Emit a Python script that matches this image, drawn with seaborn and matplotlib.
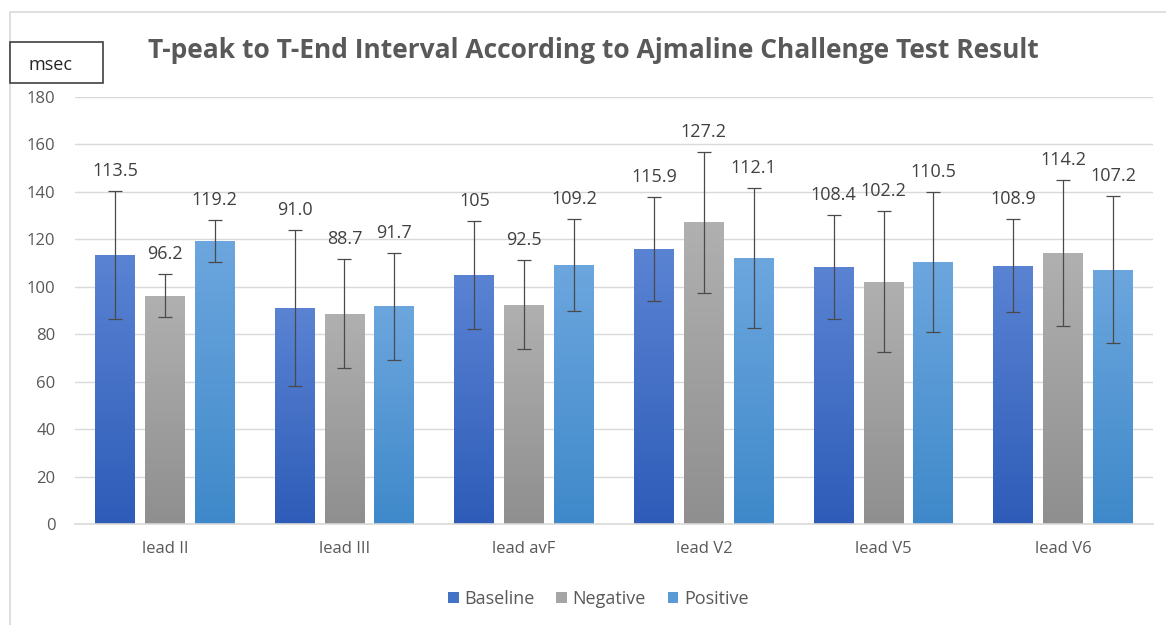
import numpy as np
import pandas as pd
import matplotlib
matplotlib.use('Agg')
import matplotlib.pyplot as plt
import seaborn as sns
from matplotlib.colors import LinearSegmentedColormap
from matplotlib.patches import Rectangle, Patch

leads = ['lead II', 'lead III', 'lead avF', 'lead V2', 'lead V5', 'lead V6']
groups = ['Baseline', 'Negative', 'Positive']

baseline = [113.5, 91.0, 105.0, 115.9, 108.4, 108.9]
negative = [96.2, 88.7, 92.5, 127.2, 102.2, 114.2]
positive = [119.2, 91.7, 109.2, 112.1, 110.5, 107.2]

baseline_sd = [27.0, 33.0, 22.7, 22.0, 22.0, 19.7]
negative_sd = [9.0, 22.8, 18.7, 29.7, 29.7, 30.9]
positive_sd = [8.8, 22.6, 19.2, 29.5, 29.6, 30.9]

baseline_lbl = ['113.5', '91.0', '105', '115.9', '108.4', '108.9']
negative_lbl = ['96.2', '88.7', '92.5', '127.2', '102.2', '114.2']
positive_lbl = ['119.2', '91.7', '109.2', '112.1', '110.5', '107.2']

rows = []
for g, vals, sds, lbls in [('Baseline', baseline, baseline_sd, baseline_lbl),
                           ('Negative', negative, negative_sd, negative_lbl),
                           ('Positive', positive, positive_sd, positive_lbl)]:
    for lead, v, s, l in zip(leads, vals, sds, lbls):
        rows.append({'lead': lead, 'group': g, 'value': v, 'sd': s, 'label': l})
df = pd.DataFrame(rows)

solid = {'Baseline': '#4472C4', 'Negative': '#A5A5A5', 'Positive': '#5B9BD5'}
grad = {'Baseline': ('#5A83D3', '#2E5CB8'),
        'Negative': ('#B0B0B0', '#8F8F8F'),
        'Positive': ('#6CA6DE', '#3F89CA')}

sns.set_theme(style='white')
plt.rcParams['font.family'] = ['Open Sans', 'DejaVu Sans']
txt = '#595959'

fig = plt.figure(figsize=(11.66, 6.25), dpi=100)
ax = fig.add_axes([0.0643, 0.1616, 0.9246, 0.6832])

sns.barplot(data=df, x='lead', y='value', hue='group', order=leads, hue_order=groups,
            palette=solid, width=0.833, gap=0.2, errorbar=None, legend=False, ax=ax)

# gradients, error bars and labels
for container, g in zip(ax.containers, groups):
    sub = df[df['group'] == g].set_index('lead').loc[leads]
    cmap = LinearSegmentedColormap.from_list(g, [grad[g][1], grad[g][0]])
    for patch, (_, r) in zip(container.patches, sub.iterrows()):
        x0, w, h = patch.get_x(), patch.get_width(), patch.get_height()
        patch.set_facecolor('none')
        patch.set_edgecolor('none')
        im = ax.imshow(np.linspace(0, 1, 100).reshape(-1, 1), cmap=cmap, origin='lower',
                       extent=[x0, x0 + w, 0, h], aspect='auto', zorder=2)
        im.set_clip_path(patch)
        xc = x0 + w / 2
        ax.errorbar(xc, r['value'], yerr=r['sd'], fmt='none', ecolor='#4a4a4a',
                    elinewidth=0.9, capsize=5, capthick=0.9, zorder=3)
        ax.annotate(r['label'], (xc, r['value'] + r['sd']), xytext=(0, 8),
                    textcoords='offset points', ha='center', va='bottom',
                    fontsize=13, color='#404040')
ax.set_xlim(-0.5, 5.5)
ax.set_ylim(0, 180)
ax.set_yticks(range(0, 181, 20))

ax.grid(axis='y', color='#D9D9D9', linewidth=1)
ax.set_axisbelow(True)
for s in ['top', 'right', 'left']:
    ax.spines[s].set_visible(False)
ax.spines['bottom'].set_color('#D9D9D9')
ax.spines['bottom'].set_linewidth(1.2)
ax.tick_params(axis='both', length=0, labelsize=12, labelcolor=txt)
ax.tick_params(axis='x', pad=12)
ax.tick_params(axis='y', pad=14)
ax.set_xlabel('')
ax.set_ylabel('')

handles = [Patch(facecolor=solid[g], edgecolor='none', label=g) for g in groups]
fig.legend(handles=handles, loc='center', bbox_to_anchor=(0.513, 0.042), ncol=3, frameon=False,
           fontsize=13, handlelength=0.6, handleheight=0.6, handletextpad=0.3, columnspacing=1.2,
           labelcolor=txt)

fig.text(0.509, 0.92, 'T-peak to T-End Interval According to Ajmaline Challenge Test Result',
         ha='center', va='center', fontsize=19, fontweight='bold', color=txt)

# outer chart frame
fig.add_artist(Rectangle((10 / 1166, -0.01), 1.2, 1 - 12 / 625 + 0.01, transform=fig.transFigure,
                         fill=False, edgecolor='#D9D9D9', linewidth=1.2))
# msec box
fig.add_artist(Rectangle((10 / 1166, 1 - 83 / 625), 93 / 1166, 41 / 625, transform=fig.transFigure,
                         facecolor='white', edgecolor='#404040', linewidth=1.2))
fig.text(50 / 1166, 1 - 65 / 625, 'msec', ha='center', va='center', fontsize=13, color='#262626')

fig.savefig('out.png', dpi=100)
